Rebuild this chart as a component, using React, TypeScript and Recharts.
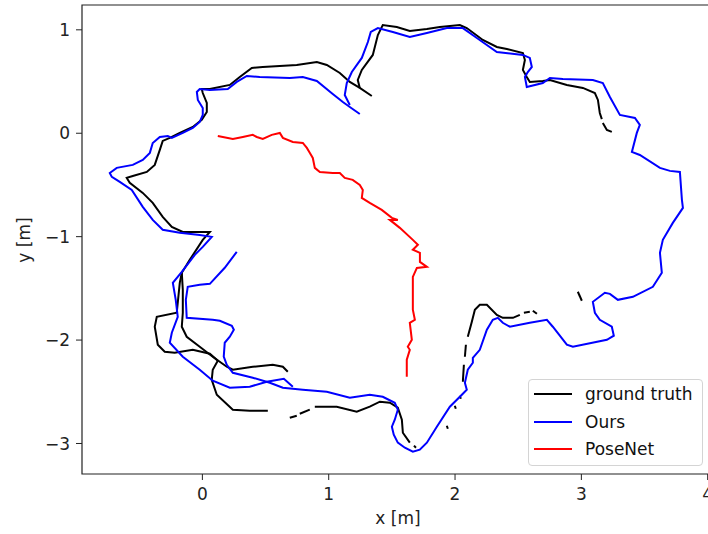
import { ScatterChart, Scatter, XAxis, YAxis, ReferenceArea } from 'recharts';

type Pt = [number, number];

const FONT = '"DejaVu Sans", sans-serif';
const W = 714;
const H = 534;

const xTicks = [0, 1, 2, 3, 4];
const yTicks = [-3, -2, -1, 0, 1];
const xDomain: [number, number] = [-0.953, 4.05];
const yDomain: [number, number] = [-3.295, 1.24];

// ground truth pieces (the capture has gaps, so it comes in chunks)
const gtWest: Pt[] = [
  [1.341, 0.36], [1.246, 0.438], [1.167, 0.496], [1.088, 0.583], [0.985, 0.66], [0.906, 0.689],
  [0.747, 0.66], [0.478, 0.641], [0.391, 0.631], [0.296, 0.544], [0.217, 0.467], [0.059, 0.428],
  [-0.005, 0.428], [0.003, 0.389], [0.035, 0.293], [0.035, 0.206], [-0.005, 0.129], [-0.076, 0.061],
  [-0.179, 0.003], [-0.258, -0.045], [-0.314, -0.074], [-0.337, -0.161], [-0.377, -0.306],
  [-0.44, -0.374], [-0.551, -0.413], [-0.599, -0.432], [-0.575, -0.48], [-0.472, -0.577],
  [-0.393, -0.673], [-0.314, -0.809], [-0.242, -0.905], [-0.155, -0.954], [0.059, -0.954],
  [0.003, -1.031], [-0.1, -1.224], [-0.163, -1.35], [-0.179, -1.446], [-0.203, -1.736],
  [-0.361, -1.775], [-0.377, -1.871], [-0.353, -2.045], [-0.298, -2.113], [-0.219, -2.123],
  [-0.076, -2.094], [0.059, -2.132], [0.122, -2.2], [0.082, -2.287], [0.074, -2.384],
  [0.114, -2.529], [0.241, -2.673], [0.375, -2.683], [0.518, -2.683],
];
const gtInner: Pt[] = [
  [-0.163, -1.35], [-0.155, -1.514], [-0.155, -1.736], [-0.163, -1.871], [-0.124, -1.968],
  [-0.021, -2.065], [0.082, -2.161], [0.193, -2.258], [0.241, -2.287], [0.399, -2.258],
  [0.557, -2.239], [0.637, -2.258], [0.676, -2.306],
];
const gtSouth: Pt[] = [
  [0.89, -2.644], [1.064, -2.644], [1.222, -2.693], [1.325, -2.644], [1.405, -2.596],
  [1.484, -2.606], [1.547, -2.654], [1.579, -2.77], [1.587, -2.896], [1.642, -2.992],
];
const gtEast: Pt[] = [
  [2.101, -1.968], [2.133, -1.823], [2.157, -1.707], [2.196, -1.659], [2.252, -1.659],
  [2.331, -1.756], [2.378, -1.785], [2.458, -1.785], [2.513, -1.756],
];
const gtNorth: Pt[] = [
  [3.162, 0.137], [3.146, 0.196], [3.131, 0.322], [3.107, 0.389], [3.012, 0.438], [2.885, 0.467],
  [2.751, 0.515], [2.695, 0.505], [2.592, 0.496], [2.568, 0.544], [2.537, 0.612], [2.553, 0.708],
  [2.537, 0.776], [2.41, 0.814], [2.331, 0.834], [2.22, 0.902], [2.093, 1.017], [2.038, 1.046],
  [1.88, 1.027], [1.777, 1.008], [1.642, 0.988], [1.539, 1.027], [1.428, 1.046], [1.389, 0.95],
  [1.349, 0.757], [1.262, 0.612], [1.23, 0.515], [1.246, 0.438],
];
const gtBits: Pt[][] = [
  [[0.692, -2.751], [0.747, -2.731]],
  [[0.771, -2.712], [0.85, -2.673]],
  [[1.675, -3.021], [1.691, -3.041]],
  [[1.935, -2.828], [1.943, -2.857]],
  [[1.998, -2.635], [2.006, -2.664]],
  [[2.038, -2.538], [2.046, -2.567]],
  [[2.062, -2.403], [2.07, -2.239]],
  [[2.078, -2.161], [2.086, -2.045]],
  [[2.545, -1.736], [2.592, -1.727]],
  [[2.616, -1.717], [2.648, -1.746]],
  [[2.972, -1.533], [3.004, -1.62]],
  [[3.241, 0.013], [3.202, 0.032], [3.17, 0.099]],
];

// ours
const oursOuter: Pt[] = [
  [1.167, 0.273], [1.127, 0.37], [1.143, 0.486], [1.183, 0.592], [1.262, 0.728], [1.31, 0.882],
  [1.333, 0.979], [1.389, 1.017], [1.508, 0.979], [1.642, 0.93], [1.777, 0.969], [1.935, 1.017],
  [2.062, 1.017], [2.173, 0.921], [2.331, 0.786], [2.537, 0.757], [2.592, 0.728], [2.608, 0.641],
  [2.576, 0.592], [2.553, 0.544], [2.568, 0.447], [2.695, 0.486], [2.751, 0.534], [2.854, 0.525],
  [3.091, 0.515], [3.17, 0.486], [3.226, 0.351], [3.305, 0.177], [3.424, 0.148], [3.463, 0.08],
  [3.439, 0.003], [3.4, -0.181], [3.463, -0.21], [3.622, -0.335], [3.701, -0.364], [3.78, -0.374],
  [3.796, -0.644], [3.804, -0.722], [3.724, -0.867], [3.645, -1.031], [3.622, -1.157],
  [3.637, -1.35], [3.566, -1.485], [3.408, -1.582], [3.289, -1.611], [3.226, -1.553],
  [3.186, -1.543], [3.091, -1.63], [3.107, -1.736], [3.146, -1.804], [3.241, -1.871],
  [3.257, -1.958], [3.202, -1.997], [2.933, -2.065], [2.885, -2.045], [2.774, -1.871],
  [2.727, -1.804], [2.592, -1.833], [2.434, -1.871], [2.378, -1.833], [2.339, -1.785],
  [2.299, -1.804], [2.252, -1.9], [2.196, -2.094], [2.141, -2.171], [2.141, -2.219],
  [2.101, -2.287], [2.078, -2.413], [2.093, -2.48], [2.054, -2.529], [1.959, -2.644],
  [1.856, -2.838], [1.777, -2.992], [1.721, -3.06], [1.666, -3.079], [1.603, -3.041],
  [1.547, -2.992], [1.515, -2.915], [1.5, -2.838], [1.523, -2.77], [1.547, -2.673],
  [1.523, -2.606], [1.428, -2.548], [1.325, -2.529], [1.167, -2.557], [0.985, -2.5],
  [0.795, -2.48], [0.637, -2.461], [0.534, -2.413], [0.399, -2.364], [0.241, -2.316],
  [0.193, -2.239], [0.169, -2.161], [0.177, -2.026], [0.217, -1.968], [0.249, -1.9],
  [0.233, -1.862], [0.138, -1.814], [0.082, -1.804], [-0.124, -1.785], [-0.131, -1.611],
  [-0.116, -1.485], [-0.021, -1.466], [0.059, -1.456], [0.177, -1.301], [0.272, -1.147],
];
const oursInner: Pt[] = [
  [0.716, -2.451], [0.645, -2.374], [0.51, -2.403], [0.375, -2.451], [0.217, -2.461],
  [0.082, -2.393], [-0.021, -2.287], [-0.155, -2.161], [-0.258, -2.026], [-0.242, -1.929],
  [-0.195, -1.775], [-0.211, -1.611], [-0.234, -1.446], [-0.163, -1.34], [-0.06, -1.176],
  [0.003, -1.099], [0.074, -1.002], [-0.021, -0.983], [-0.179, -0.963], [-0.314, -0.934],
  [-0.393, -0.838], [-0.472, -0.712], [-0.559, -0.548], [-0.654, -0.471], [-0.717, -0.422],
  [-0.733, -0.384], [-0.678, -0.335], [-0.551, -0.306], [-0.472, -0.258], [-0.416, -0.19],
  [-0.393, -0.094], [-0.337, -0.036], [-0.274, -0.026], [-0.242, -0.045], [-0.155, 0.003],
  [-0.076, 0.051], [-0.021, 0.109], [0.003, 0.177], [0.003, 0.244], [-0.036, 0.322],
  [-0.044, 0.399], [-0.021, 0.428], [0.059, 0.418], [0.201, 0.428], [0.272, 0.496],
  [0.352, 0.554], [0.454, 0.544], [0.692, 0.534], [0.795, 0.544], [0.906, 0.505],
  [1.032, 0.38], [1.112, 0.302], [1.167, 0.254], [1.246, 0.186],
];

// posenet
const poseNet: Pt[] = [
  [0.122, -0.026], [0.241, -0.055], [0.32, -0.036], [0.399, -0.016], [0.431, -0.036],
  [0.478, -0.055], [0.549, -0.016], [0.613, 0.003], [0.637, -0.045], [0.716, -0.084],
  [0.795, -0.094], [0.827, -0.142], [0.851, -0.19], [0.874, -0.239], [0.89, -0.335],
  [0.93, -0.374], [1.032, -0.384], [1.088, -0.384], [1.127, -0.432], [1.19, -0.451],
  [1.246, -0.5], [1.27, -0.548], [1.262, -0.625], [1.325, -0.673], [1.42, -0.741],
  [1.5, -0.818], [1.547, -0.838], [1.484, -0.838], [1.563, -0.915], [1.666, -1.031],
  [1.706, -1.079], [1.666, -1.127], [1.722, -1.157], [1.722, -1.244], [1.777, -1.292],
  [1.698, -1.302], [1.666, -1.389], [1.666, -1.543], [1.666, -1.707], [1.682, -1.804],
  [1.642, -1.833], [1.658, -1.997], [1.626, -2.064], [1.642, -2.094], [1.618, -2.19],
  [1.618, -2.354],
];

const BLACK = '#000000';
const BLUE = '#0000ff';
const RED = '#ff0000';

const legendItems = [
  { name: 'ground truth', color: BLACK },
  { name: 'Ours', color: BLUE },
  { name: 'PoseNet', color: RED },
];

const toRows = (pts: Pt[]) => pts.map(([x, y]) => ({ x, y }));
const noDot = () => <g />;

const fmtY = (v: number) => (v < 0 ? `\u2212${Math.abs(v)}` : `${v}`);

const tickStyle = { fill: '#222', fontSize: 17, fontFamily: FONT };

function Track({ pts, color, k }: { pts: Pt[]; color: string; k: string }) {
  return (
    <Scatter
      key={k}
      data={toRows(pts)}
      fill={color}
      line={{ stroke: color, strokeWidth: 2 }}
      lineType="joint"
      shape={noDot}
      legendType="none"
      isAnimationActive={false}
    />
  );
}

export default function App() {
  const blackPieces = [gtWest, gtInner, gtSouth, gtEast, gtNorth, ...gtBits];
  return (
    <div
      style={{
        position: 'absolute',
        left: 0,
        top: 0,
        width: 708,
        height: H,
        overflow: 'hidden',
        background: '#fff',
        fontFamily: FONT,
      }}
    >
      <ScatterChart width={W} height={H} margin={{ top: 5, right: 0, bottom: 0, left: 0 }}>
        <XAxis
          type="number"
          dataKey="x"
          domain={xDomain}
          allowDataOverflow
          ticks={xTicks}
          tick={tickStyle}
          tickSize={6}
          tickMargin={8}
          height={60}
          axisLine={false}
          tickLine={{ stroke: '#222' }}
          label={() => (
            <text x={398} y={524} textAnchor="middle" fontSize={17} fontFamily={FONT} fill="#222">
              x [m]
            </text>
          )}
        />
        <YAxis
          type="number"
          dataKey="y"
          domain={yDomain}
          allowDataOverflow
          ticks={yTicks}
          tickFormatter={fmtY}
          tick={tickStyle}
          tickSize={6}
          tickMargin={6}
          width={82}
          axisLine={false}
          tickLine={{ stroke: '#222' }}
          label={() => (
            <text
              x={30}
              y={240}
              transform="rotate(-90, 30, 240)"
              textAnchor="middle"
              fontSize={17}
              fontFamily={FONT}
              fill="#222"
            >
              y [m]
            </text>
          )}
        />
        <ReferenceArea
          x1={xDomain[0]}
          x2={xDomain[1]}
          y1={yDomain[0]}
          y2={yDomain[1]}
          fill="none"
          stroke="#222"
          strokeWidth={1.2}
          ifOverflow="visible"
        />
        {blackPieces.map((p, i) => Track({ pts: p, color: BLACK, k: `gt${i}` }))}
        {Track({ pts: oursOuter, color: BLUE, k: 'o1' })}
        {Track({ pts: oursInner, color: BLUE, k: 'o2' })}
        {Track({ pts: poseNet, color: RED, k: 'pn' })}
      </ScatterChart>
      <div
        style={{
          position: 'absolute',
          left: 528,
          top: 379,
          width: 175,
          height: 87,
          boxSizing: 'border-box',
          border: '1px solid #d4d4d4',
          borderRadius: 4,
          background: 'rgba(255,255,255,0.85)',
          fontSize: 17,
          color: '#111',
        }}
      >
        {legendItems.map((it, i) => (
          <div
            key={it.name}
            style={{
              position: 'absolute',
              left: 5,
              top: 3 + i * 27.5,
              height: 22,
              display: 'flex',
              alignItems: 'center',
              whiteSpace: 'nowrap',
            }}
          >
            <span style={{ display: 'inline-block', width: 38, height: 2, background: it.color }} />
            <span style={{ marginLeft: 13, lineHeight: '22px' }}>{it.name}</span>
          </div>
        ))}
      </div>
    </div>
  );
}
